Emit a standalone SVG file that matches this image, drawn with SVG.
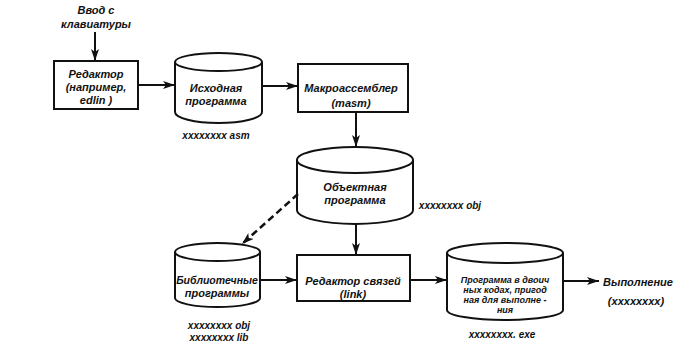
<svg xmlns="http://www.w3.org/2000/svg" width="689" height="348" viewBox="0 0 689 348">
<defs>
<style>
.s{fill:none;stroke:#111;stroke-width:2}
.c{fill:#fff;stroke:#111;stroke-width:2}
.t{font-family:"Liberation Sans",Arial,sans-serif;font-style:italic;font-weight:bold;font-size:11px;fill:#111;text-anchor:middle}
.l{font-family:"Liberation Sans",Arial,sans-serif;font-style:italic;font-weight:bold;font-size:10px;fill:#111;text-anchor:middle}
.e{font-family:"Liberation Sans",Arial,sans-serif;font-style:italic;font-weight:bold;font-size:9px;fill:#111;text-anchor:middle}
.d{stroke-dasharray:7,4;stroke-width:2.5}
</style>
<marker id="a" viewBox="0 0 12 8" refX="12" refY="4" markerWidth="12" markerHeight="8" markerUnits="userSpaceOnUse" orient="auto">
<path d="M0,0 L12,4 L0,8 L3,4 Z" fill="#111"/>
</marker>
</defs>
<rect width="689" height="348" fill="#fff"/>
<g id="input">
<text class="t" x="96" y="14">Ввод с</text>
<text class="t" x="96" y="28">клавиатуры</text>
</g>
<g id="editor">
<rect class="c" x="54" y="61" width="84" height="48"/>
<text class="t" x="96" y="78">Редактор</text>
<text class="t" x="96" y="91">(например,</text>
<text class="t" x="96" y="104">edlin )</text>
</g>
<g id="source">
<path class="c" d="M175,62 L175,112 A43.5,11 0 0 0 262,112 L262,62"/>
<ellipse class="c" cx="218.5" cy="62" rx="43.5" ry="9"/>
<text class="t" x="216" y="92">Исходная</text>
<text class="t" x="216" y="105">программа</text>
<text class="l" x="216" y="139">xxxxxxxx asm</text>
</g>
<g id="masm">
<rect class="c" x="298" y="64" width="110" height="48"/>
<text class="t" x="351" y="92">Макроассемблер</text>
<text class="t" x="351" y="107">(masm)</text>
</g>
<g id="object">
<path class="c" d="M297,160 L297,210 A58,14 0 0 0 413,210 L413,160"/>
<ellipse class="c" cx="355" cy="160" rx="58" ry="13"/>
<text class="t" x="355" y="191">Объектная</text>
<text class="t" x="355" y="204">программа</text>
<text class="l" x="450" y="209">xxxxxxxx obj</text>
</g>
<g id="library">
<path class="c" d="M175,252 L175,298 A42.5,9 0 0 0 260,298 L260,252"/>
<ellipse class="c" cx="217.5" cy="252" rx="42.5" ry="9"/>
<text class="t" x="217" y="284" style="font-size:10.5px">Библиотечные</text>
<text class="t" x="217" y="297">программы</text>
<text class="l" x="219" y="329">xxxxxxxx obj</text>
<text class="l" x="219" y="341">xxxxxxxx lib</text>
</g>
<g id="link">
<rect class="c" x="297" y="255" width="113" height="46"/>
<text class="t" x="353" y="285">Редактор связей</text>
<text class="t" x="353" y="298">(link)</text>
</g>
<g id="exe">
<path class="c" d="M447,253 L447,310 A58,10 0 0 0 563,310 L563,253"/>
<ellipse class="c" cx="505" cy="253" rx="58" ry="10"/>
<text class="e" x="505" y="283">Программа в двоич</text>
<text class="e" x="505" y="293">ных кодах, пригод</text>
<text class="e" x="505" y="303">ная для выполне -</text>
<text class="e" x="505" y="313">ния</text>
<text class="l" x="502" y="338">xxxxxxxx. exe</text>
</g>
<g id="run">
<text class="t" x="638" y="286">Выполнение</text>
<text class="t" x="636" y="305">(xxxxxxxx)</text>
</g>
<g id="connectors">
<line class="s" x1="95" y1="32" x2="95" y2="61" marker-end="url(#a)"/>
<line class="s" x1="138" y1="85" x2="175" y2="85" marker-end="url(#a)"/>
<line class="s" x1="262" y1="86" x2="298" y2="86" marker-end="url(#a)"/>
<line class="s" x1="356" y1="112" x2="356" y2="147" marker-end="url(#a)"/>
<line class="s" x1="356" y1="224" x2="356" y2="255" marker-end="url(#a)"/>
<line class="s d" x1="298" y1="194" x2="242" y2="244" marker-end="url(#a)"/>
<line class="s" x1="260" y1="280" x2="297" y2="280" marker-end="url(#a)"/>
<line class="s" x1="410" y1="280" x2="447" y2="280" marker-end="url(#a)"/>
<line class="s" x1="563" y1="281" x2="599" y2="281" marker-end="url(#a)"/>
</g>
</svg>
